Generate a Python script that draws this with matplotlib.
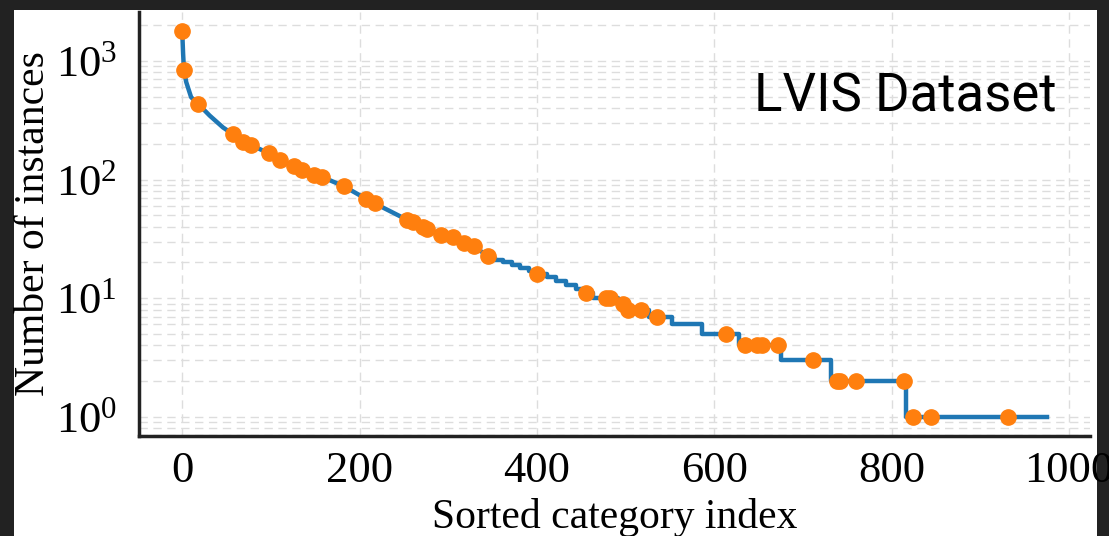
#### Long-tail plot: sorted category index vs number of instances (LVIS)

## Import Libraries
import numpy as np # Arrays
import matplotlib
matplotlib.use("Agg") # No display in sandbox
import matplotlib.pyplot as plt
from matplotlib.patches import Rectangle

## Data
# Head of the curve (smooth part), index and count
head_idx = [0, 1, 2, 4.5, 10, 18, 31, 46, 57, 69, 78, 98, 110, 126, 135, 149, 158,
            182, 207, 217, 253, 260, 272, 276, 292, 305, 318, 329, 345]
head_cnt = [1780, 1150, 832, 664, 495, 434, 346, 275, 242, 208, 195, 166, 146, 130, 120,
            109, 105, 88, 69, 63, 46, 43.5, 40, 38, 34.4, 32.6, 29.4, 27.4, 22.5]

# Tail of the curve: index where each integer count starts (staircase)
step_idx = [345, 353, 362, 372, 381, 391, 400, 411, 422, 433, 444, 455, 463, 492, 502,
            526, 552, 586, 628, 675, 732, 816, 975]
step_cnt = [22, 21, 20, 19, 18, 17, 16, 15, 14, 13, 12, 11, 10, 9, 8,
            7, 6, 5, 4, 3, 2, 1, 1]

# Highlighted categories (orange dots)
dot_idx = [0, 2, 18, 57, 69, 78, 98, 110, 126, 135, 149, 158, 182, 207, 217, 253, 260,
           272, 276, 292, 305, 318, 329, 345, 400, 455, 478, 482, 497, 503, 517, 535,
           613, 635, 648, 654, 672, 711, 738, 742, 760, 814, 824, 844, 931]
dot_cnt = [1780, 832, 434, 242, 208, 195, 166, 146, 130, 120, 109, 105, 88, 69, 63, 46,
           43.5, 40, 38, 34.4, 32.6, 29.4, 27.4, 22.5, 16, 11, 10, 10, 9, 8, 8, 7,
           5, 4, 4, 4, 4, 3, 2, 2, 2, 2, 1, 1, 1]

## Fonts
plt.rcParams["font.family"] = ["Liberation Serif", "DejaVu Serif"]
plt.rcParams["mathtext.fontset"] = "custom"
plt.rcParams["mathtext.rm"] = "Liberation Serif"
plt.rcParams["mathtext.it"] = "Liberation Serif:italic"

## Figure with dark screenshot frame and white panel
fig = plt.figure(figsize = (11.09, 5.36), dpi = 100)
fig.patch.set_facecolor("#222222")
panel = Rectangle((14 / 1109, 0), (1097 - 14) / 1109, 1 - 10 / 536,
                  transform = fig.transFigure, facecolor = "white", edgecolor = "none")
panel.set_zorder(-5) # Keep the white panel behind the axes
fig.add_artist(panel)
ax = fig.add_axes([139 / 1109, 1 - 436 / 536, (1090 - 139) / 1109, (436 - 12) / 536])
ax.set_facecolor("none")
ax.set_zorder(2)

## Curve and dots
ax.plot(head_idx, head_cnt, color = "#1f77b4", linewidth = 3.2, zorder = 2) # Smooth head
ax.plot(step_idx, step_cnt, color = "#1f77b4", linewidth = 3.2, drawstyle = "steps-post", zorder = 2) # Staircase tail
ax.plot(dot_idx, dot_cnt, "o", color = "#ff7f0e", markersize = 11, zorder = 3) # Highlighted points
ax.set_yscale("log")

## Axes styling
ax.grid(False)
ax.xaxis.grid(True, which = "major", linestyle = (0, (6, 4)), color = "#dddddd", linewidth = 1)
ax.yaxis.grid(True, which = "both", linestyle = (0, (6, 4)), color = "#dddddd", linewidth = 1)
ax.set_axisbelow(True)
for side in ["top", "right"]:
    ax.spines[side].set_visible(False)
for side in ["left", "bottom"]:
    ax.spines[side].set_linewidth(2.5)
    ax.spines[side].set_color("#222222")
ax.set_xticks([0, 200, 400, 600, 800, 1000])
ax.tick_params(axis = "both", which = "both", length = 0, labelsize = 32)
ax.tick_params(axis = "y", pad = 16)
ax.tick_params(axis = "x", pad = 11)
ax.set_xlabel("Sorted category index", fontsize = 30, labelpad = 5)
ax.set_ylabel("Number of instances", fontsize = 30, labelpad = 1.5)

## Dataset tag
ax.text(0.965, 0.80, "LVIS Dataset", transform = ax.transAxes, ha = "right", va = "center",
        fontsize = 38, family = "Roboto", color = "black")

fig.savefig("out.png", dpi = 100, facecolor = fig.get_facecolor())
